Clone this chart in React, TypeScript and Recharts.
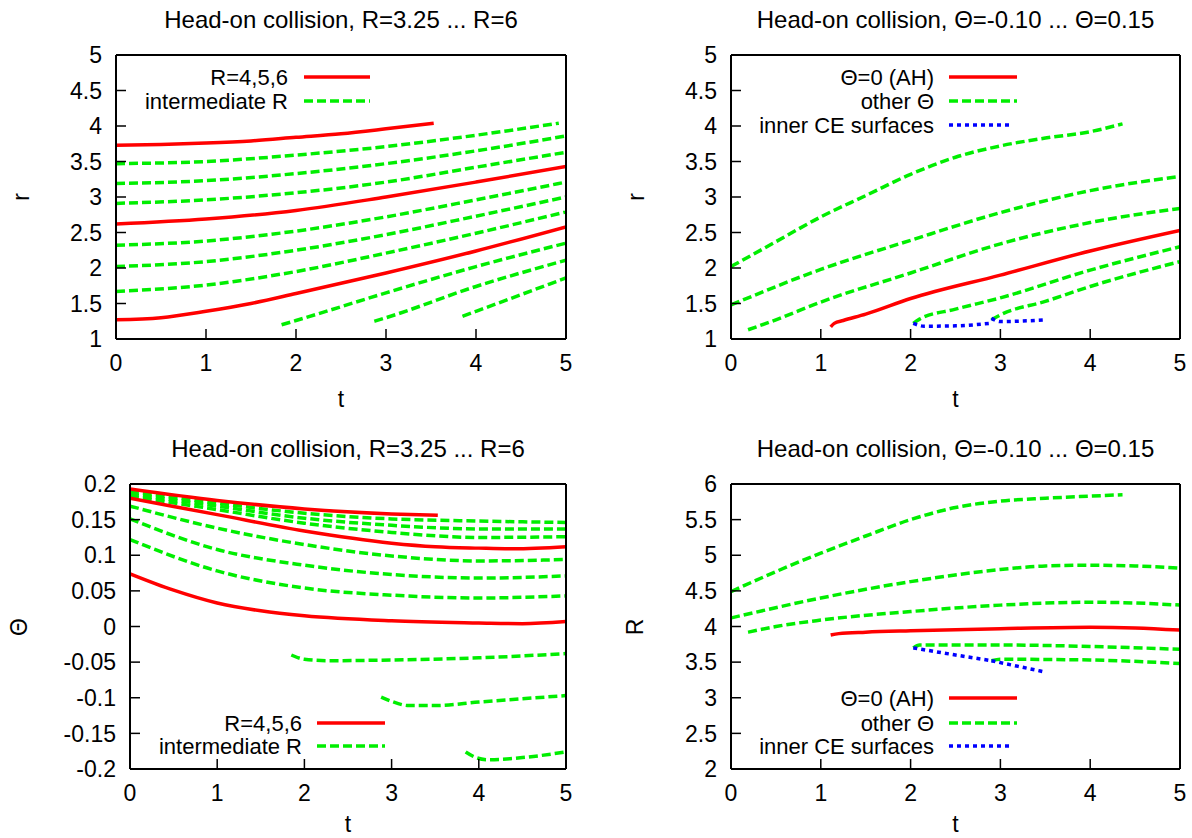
import React from 'react';
import { LineChart, Line, XAxis, YAxis, Legend } from 'recharts';

// ---- tick labels ----
const tTicks = [0, 1, 2, 3, 4, 5];
const rTicks = [1, 1.5, 2, 2.5, 3, 3.5, 4, 4.5, 5];
const thetaTicks = [-0.2, -0.15, -0.1, -0.05, 0, 0.05, 0.1, 0.15, 0.2];
const bigRTicks = [2, 2.5, 3, 3.5, 4, 4.5, 5, 5.5, 6];

// ---- r(t), R = 3.25 ... 6 (pairs of [t, r]) ----
const rR6 = [[0, 3.73], [0.5, 3.74], [1, 3.76], [1.5, 3.79], [2, 3.84], [2.5, 3.89], [3, 3.96], [3.53, 4.04]];
const rR5 = [[0, 2.62], [1, 2.69], [2, 2.81], [3, 3.0], [4, 3.21], [5, 3.43]];
const rR4 = [[0, 1.27], [0.5, 1.3], [1, 1.39], [1.5, 1.5], [2, 1.64], [3, 1.93], [4, 2.24], [5, 2.58]];
const rMidA = [[0, 3.47], [1, 3.5], [2, 3.59], [3, 3.71], [4, 3.87], [4.92, 4.04]];
const rMidB = [[0, 3.19], [1, 3.23], [2, 3.33], [3, 3.47], [4, 3.65], [5, 3.86]];
const rMidC = [[0, 2.91], [1, 2.96], [2, 3.06], [3, 3.21], [4, 3.42], [5, 3.63]];
const rMidD = [[0, 2.32], [1, 2.38], [2, 2.52], [3, 2.72], [4, 2.96], [5, 3.21]];
const rMidE = [[0, 2.02], [1, 2.09], [2, 2.25], [3, 2.47], [4, 2.73], [5, 3.0]];
const rMidF = [[0, 1.67], [1, 1.76], [2, 1.95], [3, 2.21], [4, 2.49], [5, 2.79]];
const rMidG = [[1.84, 1.2], [2, 1.26], [3, 1.65], [4, 2.02], [5, 2.35]];
const rMidH = [[2.87, 1.25], [3, 1.3], [4, 1.74], [5, 2.11]];
const rMidI = [[3.85, 1.32], [4, 1.39], [5, 1.86]];

// ---- Theta(t), R = 3.25 ... 6 ----
const thR6 = [[0, 0.193], [1, 0.177], [2, 0.165], [3, 0.158], [3.53, 0.156]];
const thR5 = [[0, 0.18], [1, 0.157], [2, 0.134], [3, 0.117], [3.5, 0.112], [4, 0.11], [4.4, 0.109], [5, 0.112]];
const thR4 = [[0, 0.074], [0.5, 0.051], [1, 0.033], [1.5, 0.022], [2, 0.015], [3, 0.008], [4, 0.005], [4.5, 0.004], [5, 0.007]];
const thMidA = [[0, 0.19], [1, 0.173], [2, 0.159], [3, 0.151], [4, 0.148], [5, 0.146]];
const thMidB = [[0, 0.186], [1, 0.169], [2, 0.152], [3, 0.142], [4, 0.137], [5, 0.137]];
const thMidC = [[0, 0.183], [1, 0.164], [2, 0.145], [3, 0.132], [4, 0.125], [5, 0.126]];
const thMidD = [[0, 0.169], [1, 0.138], [2, 0.115], [3, 0.099], [4, 0.092], [5, 0.094]];
const thMidE = [[0, 0.151], [1, 0.108], [2, 0.086], [3, 0.073], [4, 0.068], [5, 0.071]];
const thMidF = [[0, 0.122], [1, 0.078], [2, 0.054], [3, 0.044], [4, 0.04], [5, 0.043]];
const thMidG = [[1.85, -0.04], [2, -0.046], [2.3, -0.048], [3, -0.047], [4, -0.044], [5, -0.038]];
const thMidH = [[2.88, -0.099], [3, -0.105], [3.2, -0.111], [3.5, -0.111], [4, -0.106], [5, -0.097]];
const thMidI = [[3.85, -0.176], [3.95, -0.183], [4.1, -0.187], [4.5, -0.184], [5, -0.176]];

// ---- r(t), Theta = -0.10 ... 0.15 ----
const rAH = [[1.11, 1.17], [1.15, 1.22], [1.25, 1.26], [1.5, 1.35], [2, 1.57], [3, 1.9], [4, 2.24], [5, 2.53]];
const rTh1 = [[0, 2.02], [0.5, 2.37], [1, 2.72], [1.5, 3.02], [2, 3.32], [2.5, 3.56], [3, 3.72], [3.5, 3.83], [4, 3.92], [4.36, 4.03]];
const rTh2 = [[0, 1.48], [1, 1.98], [2, 2.39], [3, 2.78], [4, 3.09], [5, 3.29]];
const rTh3 = [[0.19, 1.13], [0.5, 1.27], [1, 1.52], [2, 1.93], [3, 2.34], [4, 2.64], [5, 2.84]];
const rTh4 = [[2.03, 1.22], [2.1, 1.28], [2.5, 1.42], [3, 1.58], [4, 1.97], [5, 2.3]];
const rTh5 = [[2.9, 1.27], [3, 1.34], [3.5, 1.53], [4, 1.74], [5, 2.09]];
const rCE1 = [[2.03, 1.22], [2.15, 1.18], [2.5, 1.185], [2.88, 1.22]];
const rCE2 = [[2.9, 1.29], [3, 1.245], [3.5, 1.27]];

// ---- R(t), Theta = -0.10 ... 0.15 ----
const RAH = [[1.11, 3.88], [1.2, 3.9], [1.5, 3.92], [2, 3.94], [3, 3.97], [4, 3.99], [4.5, 3.98], [5, 3.95]];
const RTh1 = [[0, 4.49], [0.5, 4.77], [1, 5.03], [1.5, 5.27], [2, 5.5], [2.5, 5.67], [3, 5.76], [3.5, 5.8], [4, 5.83], [4.36, 5.85]];
const RTh2 = [[0, 4.12], [1, 4.4], [2, 4.63], [3, 4.8], [3.5, 4.85], [4, 4.86], [4.5, 4.85], [5, 4.82]];
const RTh3 = [[0.19, 3.92], [0.5, 4.0], [1, 4.09], [2, 4.21], [3, 4.3], [4, 4.34], [4.5, 4.33], [5, 4.3]];
const RTh4 = [[2.03, 3.7], [2.1, 3.74], [3, 3.74], [4, 3.72], [5, 3.68]];
const RTh5 = [[2.9, 3.52], [3, 3.54], [4, 3.53], [5, 3.48]];
const RCE1 = [[2.03, 3.7], [2.5, 3.6], [2.9, 3.52]];
const RCE2 = [[2.9, 3.52], [3.2, 3.44], [3.5, 3.36]];

const FONT = '"Liberation Sans", Arial, Helvetica, sans-serif';
const RED = '#ff0000';
const GREEN = '#00ee00';
const BLUE = '#0000ff';

type Kind = 'main' | 'other' | 'inner';
const look: Record<Kind, { stroke: string; dash?: string }> = {
  main: { stroke: RED },
  other: { stroke: GREEN, dash: '9 4' },
  inner: { stroke: BLUE, dash: '4 4' },
};

interface Panel {
  left: number; top: number; plotW: number; plotH: number;
  yDomain: [number, number]; yTicks: number[];
  series: { kind: Kind; data: number[][] }[];
  legend: { items: { label: string; kind: Kind }[]; textRight: number; x0: number; x1: number; rows: number[] };
}

const panels: Panel[] = [
  {
    left: 16, top: 35, plotW: 450, plotH: 284, yDomain: [1, 5], yTicks: rTicks,
    series: [
      ...[rMidA, rMidB, rMidC, rMidD, rMidE, rMidF, rMidG, rMidH, rMidI].map(d => ({ kind: 'other' as Kind, data: d })),
      ...[rR6, rR5, rR4].map(d => ({ kind: 'main' as Kind, data: d })),
    ],
    legend: { items: [{ label: 'R=4,5,6', kind: 'main' }, { label: 'intermediate R', kind: 'other' }], textRight: 288, x0: 304, x1: 370, rows: [77, 101] },
  },
  {
    left: 631, top: 35, plotW: 449, plotH: 284, yDomain: [1, 5], yTicks: rTicks,
    series: [
      ...[rTh1, rTh2, rTh3, rTh4, rTh5].map(d => ({ kind: 'other' as Kind, data: d })),
      ...[rCE1, rCE2].map(d => ({ kind: 'inner' as Kind, data: d })),
      { kind: 'main', data: rAH },
    ],
    legend: { items: [{ label: 'Θ=0 (AH)', kind: 'main' }, { label: 'other Θ', kind: 'other' }, { label: 'inner CE surfaces', kind: 'inner' }], textRight: 934, x0: 949, x1: 1017, rows: [77, 101, 125] },
  },
  {
    left: 30, top: 464, plotW: 436, plotH: 285, yDomain: [-0.2, 0.2], yTicks: thetaTicks,
    series: [
      ...[thMidA, thMidB, thMidC, thMidD, thMidE, thMidF, thMidG, thMidH, thMidI].map(d => ({ kind: 'other' as Kind, data: d })),
      ...[thR6, thR5, thR4].map(d => ({ kind: 'main' as Kind, data: d })),
    ],
    legend: { items: [{ label: 'R=4,5,6', kind: 'main' }, { label: 'intermediate R', kind: 'other' }], textRight: 302, x0: 317, x1: 385, rows: [723, 746] },
  },
  {
    left: 631, top: 464, plotW: 449, plotH: 285, yDomain: [2, 6], yTicks: bigRTicks,
    series: [
      ...[RTh1, RTh2, RTh3, RTh4, RTh5].map(d => ({ kind: 'other' as Kind, data: d })),
      ...[RCE1, RCE2].map(d => ({ kind: 'inner' as Kind, data: d })),
      { kind: 'main', data: RAH },
    ],
    legend: { items: [{ label: 'Θ=0 (AH)', kind: 'main' }, { label: 'other Θ', kind: 'other' }, { label: 'inner CE surfaces', kind: 'inner' }], textRight: 934, x0: 949, x1: 1017, rows: [698, 723, 746] },
  },
];

const axisLine = { stroke: '#000', strokeWidth: 2 };
const tickLine = { stroke: '#000', strokeWidth: 1.5 };
const tickFont = { fill: '#000', fontSize: 23, fontFamily: FONT };

const PanelChart = ({ p }: { p: Panel }) => {
  const w = p.plotW + 110;
  const h = p.plotH + 100;
  const lg = p.legend;
  return (
    <div style={{ position: 'absolute', left: p.left, top: p.top }}>
      <LineChart width={w} height={h} margin={{ top: 10, right: 2, left: 40, bottom: 20 }}>
        <XAxis xAxisId="b" type="number" dataKey="t" domain={[0, 5]} ticks={tTicks} interval={0}
          allowDataOverflow tickSize={-10} tickMargin={26} height={60}
          axisLine={axisLine} tickLine={tickLine} tick={tickFont} />
        <XAxis xAxisId="top" orientation="top" type="number" domain={[0, 5]} ticks={tTicks} interval={0}
          allowDataOverflow tickSize={-10} height={10} axisLine={axisLine} tickLine={tickLine} tick={false} />
        <YAxis yAxisId="l" type="number" domain={p.yDomain} ticks={p.yTicks} interval={0}
          allowDataOverflow tickSize={-10} tickMargin={24} width={60}
          axisLine={axisLine} tickLine={tickLine} tick={tickFont} />
        <YAxis yAxisId="r" orientation="right" type="number" domain={p.yDomain} ticks={p.yTicks} interval={0}
          allowDataOverflow tickSize={-10} width={8} axisLine={axisLine} tickLine={tickLine} tick={false} />
        {p.series.map((s, i) => (
          <Line key={i} xAxisId="b" yAxisId="l" data={s.data.map(([t, v]) => ({ t, v }))} dataKey="v"
            type="monotone" stroke={look[s.kind].stroke} strokeDasharray={look[s.kind].dash}
            strokeWidth={3.5} dot={false} activeDot={false} isAnimationActive={false} legendType="none" />
        ))}
        <Legend layout="horizontal" verticalAlign="middle" align="center"
          wrapperStyle={{ left: 0, top: 0, width: w, height: h, pointerEvents: 'none' }}
          content={() => (
            <svg width={w} height={h} style={{ position: 'absolute', left: 0, top: 0 }}>
              {lg.items.map((it, i) => {
                const y = lg.rows[i] - p.top;
                return (
                  <g key={it.label}>
                    <text x={lg.textRight - p.left} y={y} textAnchor="end" dominantBaseline="central"
                      fontSize={22} fontFamily={FONT} fill="#000">{it.label}</text>
                    <line x1={lg.x0 - p.left} x2={(it.kind === 'inner' ? lg.x1 - 4 : lg.x1) - p.left} y1={y} y2={y}
                      stroke={look[it.kind].stroke} strokeDasharray={look[it.kind].dash} strokeWidth={3.5} />
                  </g>
                );
              })}
            </svg>
          )} />
      </LineChart>
    </div>
  );
};

const titleTop = 'Head-on collision, R=3.25 ... R=6';
const titleRight = 'Head-on collision, Θ=-0.10 ... Θ=0.15';

export default function App() {
  const txt = { fontSize: 23, fontFamily: FONT, fill: '#000' };
  const ttl = { fontSize: 24, fontFamily: FONT, fill: '#000' };
  return (
    <div style={{ position: 'absolute', left: 0, top: 0, width: 1192, height: 838, overflow: 'hidden', background: '#fff' }}>
      {panels.map((p, i) => <PanelChart key={i} p={p} />)}
      <svg width={1192} height={838} style={{ position: 'absolute', left: 0, top: 0, pointerEvents: 'none' }}>
        <text x={341} y={28} textAnchor="middle" {...ttl}>{titleTop}</text>
        <text x={955.5} y={28} textAnchor="middle" {...ttl}>{titleRight}</text>
        <text x={348} y={457} textAnchor="middle" {...ttl}>{titleTop}</text>
        <text x={955.5} y={457} textAnchor="middle" {...ttl}>{titleRight}</text>
        <text x={341} y={407} textAnchor="middle" {...txt}>t</text>
        <text x={955.5} y={407} textAnchor="middle" {...txt}>t</text>
        <text x={348} y={832} textAnchor="middle" {...txt}>t</text>
        <text x={955.5} y={832} textAnchor="middle" {...txt}>t</text>
        <text transform="translate(21,197) rotate(-90)" textAnchor="middle" dominantBaseline="central" {...txt}>r</text>
        <text transform="translate(636,197) rotate(-90)" textAnchor="middle" dominantBaseline="central" {...txt}>r</text>
        <text transform="translate(19,627) rotate(-90)" textAnchor="middle" dominantBaseline="central" {...txt}>Θ</text>
        <text transform="translate(635,627) rotate(-90)" textAnchor="middle" dominantBaseline="central" {...txt}>R</text>
      </svg>
    </div>
  );
}
